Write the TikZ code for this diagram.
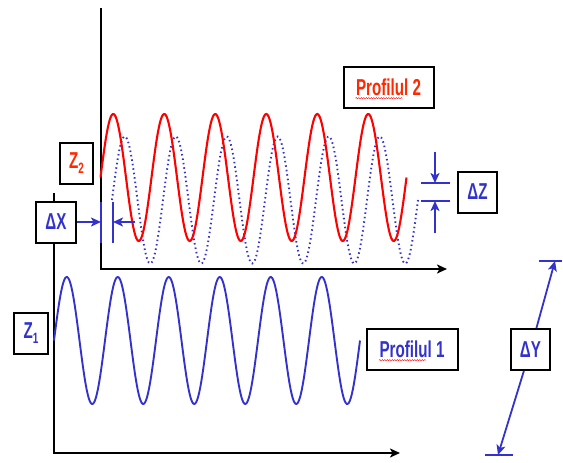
\documentclass[tikz,border=0pt]{standalone}
\usepackage{fontspec}
\setmainfont[FakeStretch=0.66]{Liberation Sans}
\usetikzlibrary{arrows.meta, decorations.pathmorphing}
\definecolor{profblue}{RGB}{51,51,204}
\definecolor{profred}{RGB}{255,40,0}
\newcommand\idx[1]{\raisebox{-5pt}{\fontsize{15}{15}\selectfont #1}}

\begin{document}
\begin{tikzpicture}[x=1pt, y=-1pt,
			>={Stealth[length=10pt, width=9pt, inset=2.5pt]},   %Pfeilspitzen
			box/.style={draw, line width=2pt, fill=white, inner sep=0pt, minimum height=41pt,
				font=\bfseries\fontsize{23}{24}\selectfont},
			axis/.style={line width=2pt, black},
			dim/.style={line width=1.8pt, profblue},
			wavy/.style={decorate, decoration={snake, amplitude=0.7pt, segment length=2.5pt}, line width=0.4pt, red}]
			%Bildbereich
			\useasboundingbox (0,0) rectangle (563,463);
			% Achsen zeichnen
			\draw[axis,->] (100.5,8) -- (100.5,269) -- (447,269);
			\draw[axis,->] (54,193) -- (54,453) -- (400,453);
			% Profile zeichnen (Periode 51)
			\draw[profblue, line width=1.9pt, samples=300, domain=0:306] plot ({54+\x}, {340.5-63.5*sin(7.0588*\x)});
			\draw[profblue, line width=1.9pt, dash pattern=on 1.5pt off 3pt, samples=300, domain=0:306] plot ({112+\x}, {200-63.5*sin(7.0588*\x)});
			\draw[red, line width=2.1pt, samples=300, domain=0:306] plot ({100.5+\x}, {177.5-63.5*sin(7.0588*\x)});
			% Beschriftung
			\node[box, minimum width=90pt, text=profred] (prof2) at (388.5,87.5) {Profilul 2};
			\node[box, minimum width=91pt, text=profblue] (prof1) at (412,349.5) {Profilul 1};
			\node[box, minimum width=33pt, text=profred] (z2) at (76.5,163) {Z\idx{2}};
			\node[box, minimum width=40pt, text=profblue] (dx) at (56,222) {ΔX};
			\node[box, minimum width=39pt, text=profblue] (dz) at (477.5,192) {ΔZ};
			\node[box, minimum width=34pt, text=profblue] (z1) at (31,333) {Z\idx{1}};
			\node[box, minimum width=39pt, text=profblue] (dy) at (530.5,349.5) {ΔY};
			\foreach \n in {prof1,prof2} \draw[wavy] ([shift={(-33,2.5)}]\n.base) -- ([shift={(14,2.5)}]\n.base);
			% Versatz in x
			\coordinate (xl) at (101,222);
			\coordinate (xr) at (113,222);
			\coordinate (xs) at (135,222);
			\foreach \p in {101,113} \draw[dim] (\p,202) -- (\p,243);
			\draw[dim,->] (dx) -- (xl);
			\draw[dim,->] (xs) -- (xr);
			% Versatz in z
			\coordinate (zo) at (435,152);
			\coordinate (zt) at (435,183);
			\coordinate (zb) at (435,201);
			\coordinate (zu) at (435,233);
			\foreach \q in {183,201} \draw[dim] (421,\q) -- (450,\q);
			\draw[dim,->] (zo) -- (zt);
			\draw[dim,->] (zu) -- (zb);
			% Versatz in y
			\coordinate (yt) at (555,261);
			\coordinate (yb) at (498,455);
			\draw[dim] (539,261) -- (562,261);
			\draw[dim] (485,455) -- (513,455);
			\draw[dim,->] (dy) -- (yt);
			\draw[dim,->] (dy) -- (yb);
		\end{tikzpicture}
\end{document}
